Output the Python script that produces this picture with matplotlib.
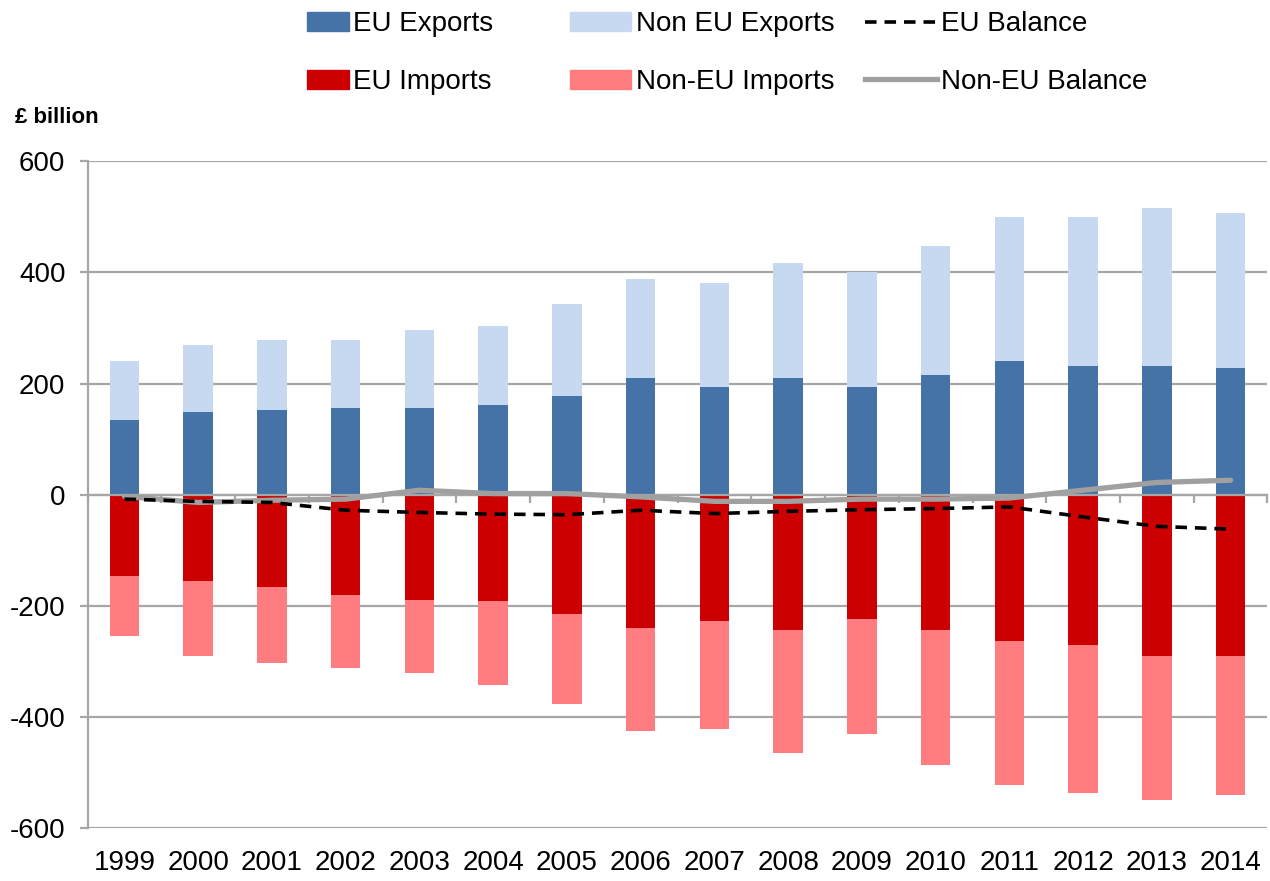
import matplotlib
matplotlib.use("Agg")
import matplotlib.pyplot as plt
import numpy as np
from matplotlib.patches import Patch
from matplotlib.lines import Line2D

plt.rcParams['font.family'] = ['Liberation Sans', 'DejaVu Sans']
plt.rcParams['axes.unicode_minus'] = False

years = ['1999', '2000', '2001', '2002', '2003', '2004', '2005', '2006',
         '2007', '2008', '2009', '2010', '2011', '2012', '2013', '2014']

# £ billion
eu_exports = [135, 149, 153, 156, 156, 162, 178, 210, 194, 210, 194, 216, 241, 232, 232, 228]
non_eu_exports = [106, 121, 126, 123, 141, 142, 165, 178, 186, 207, 207, 232, 259, 268, 284, 279]
eu_imports = [-147, -155, -167, -180, -189, -192, -214, -239, -227, -243, -223, -243, -264, -270, -290, -290]
non_eu_imports = [-108, -136, -135, -131, -131, -150, -162, -187, -194, -221, -207, -243, -259, -266, -260, -251]
eu_balance = [-8, -12, -14, -28, -32, -35, -36, -28, -34, -30, -27, -25, -22, -40, -57, -62]
non_eu_balance = [-3, -14, -10, -8, 8, 2, 2, -4, -12, -12, -8, -8, -6, 8, 22, 26]

c_eu_exp = '#4572A7'
c_non_exp = '#C6D9F0'
c_eu_imp = '#CC0000'
c_non_imp = '#FF7C80'
c_grid = '#A6A6A6'
c_nonbal = '#A0A0A0'

eu_dash = (0, (3.2, 2.2))

x = np.arange(len(years))
w = 0.4

fig = plt.figure(figsize=(12.7, 8.81), dpi=100)
ax = fig.add_axes([0.069, 0.060, 0.929, 0.757])

ax.bar(x, eu_exports, w, color=c_eu_exp, zorder=2)
ax.bar(x, non_eu_exports, w, bottom=eu_exports, color=c_non_exp, zorder=2)
ax.bar(x, eu_imports, w, color=c_eu_imp, zorder=2)
ax.bar(x, non_eu_imports, w, bottom=eu_imports, color=c_non_imp, zorder=2)

ax.plot(x, non_eu_balance, color=c_nonbal, lw=3.8, zorder=4, solid_capstyle='round')
ax.plot(x, eu_balance, color='black', lw=2.6, ls=eu_dash, zorder=5)

ax.set_xlim(-0.5, len(years) - 0.5)
ax.set_ylim(-600, 600)
ax.set_yticks(range(-600, 601, 200))
ax.set_axisbelow(True)
ax.yaxis.grid(True, color=c_grid, lw=1.6)

for s in ['top', 'right', 'bottom']:
    ax.spines[s].set_visible(False)
ax.spines['left'].set_color(c_grid)
ax.spines['left'].set_linewidth(1.6)

ax.set_xticks(x)
ax.set_xticklabels(years)
ax.tick_params(axis='x', length=0, pad=16, labelsize=20)
ax.tick_params(axis='y', length=6, width=1.6, color=c_grid, pad=10, labelsize=20)

# zero line with category dividers
sec = ax.secondary_xaxis(0.49999)
sec.set_xticks(np.arange(-0.5, len(years), 1))
sec.set_xticklabels([])
sec.tick_params(length=6, width=1.6, color=c_grid, direction='out')
sec.spines['bottom'].set_color(c_grid)
sec.spines['bottom'].set_linewidth(1.6)
sec.set_zorder(3)

fig.text(0.012, 0.860, '£ billion', fontsize=16, fontweight='bold')

# legend, one column at a time
cols = [
    ([Patch(color=c_eu_exp), Patch(color=c_eu_imp)], ['EU Exports', 'EU Imports'], 0.242, 1.5),
    ([Patch(color=c_non_exp), Patch(color=c_non_imp)], ['Non EU Exports', 'Non-EU Imports'], 0.449, 2.2),
    ([Line2D([], [], color='black', lw=2.6, ls=eu_dash),
      Line2D([], [], color=c_nonbal, lw=3.8)], ['EU Balance', 'Non-EU Balance'], 0.681, 2.6),
]
for h, l, xpos, hl in cols:
    fig.legend(h, l, loc='upper left', bbox_to_anchor=(xpos, 0.987), frameon=False,
               fontsize=20, handlelength=hl, handleheight=0.7, handletextpad=0.15,
               borderpad=0, borderaxespad=0, labelspacing=1.14)

fig.savefig('out.png', dpi=100)
